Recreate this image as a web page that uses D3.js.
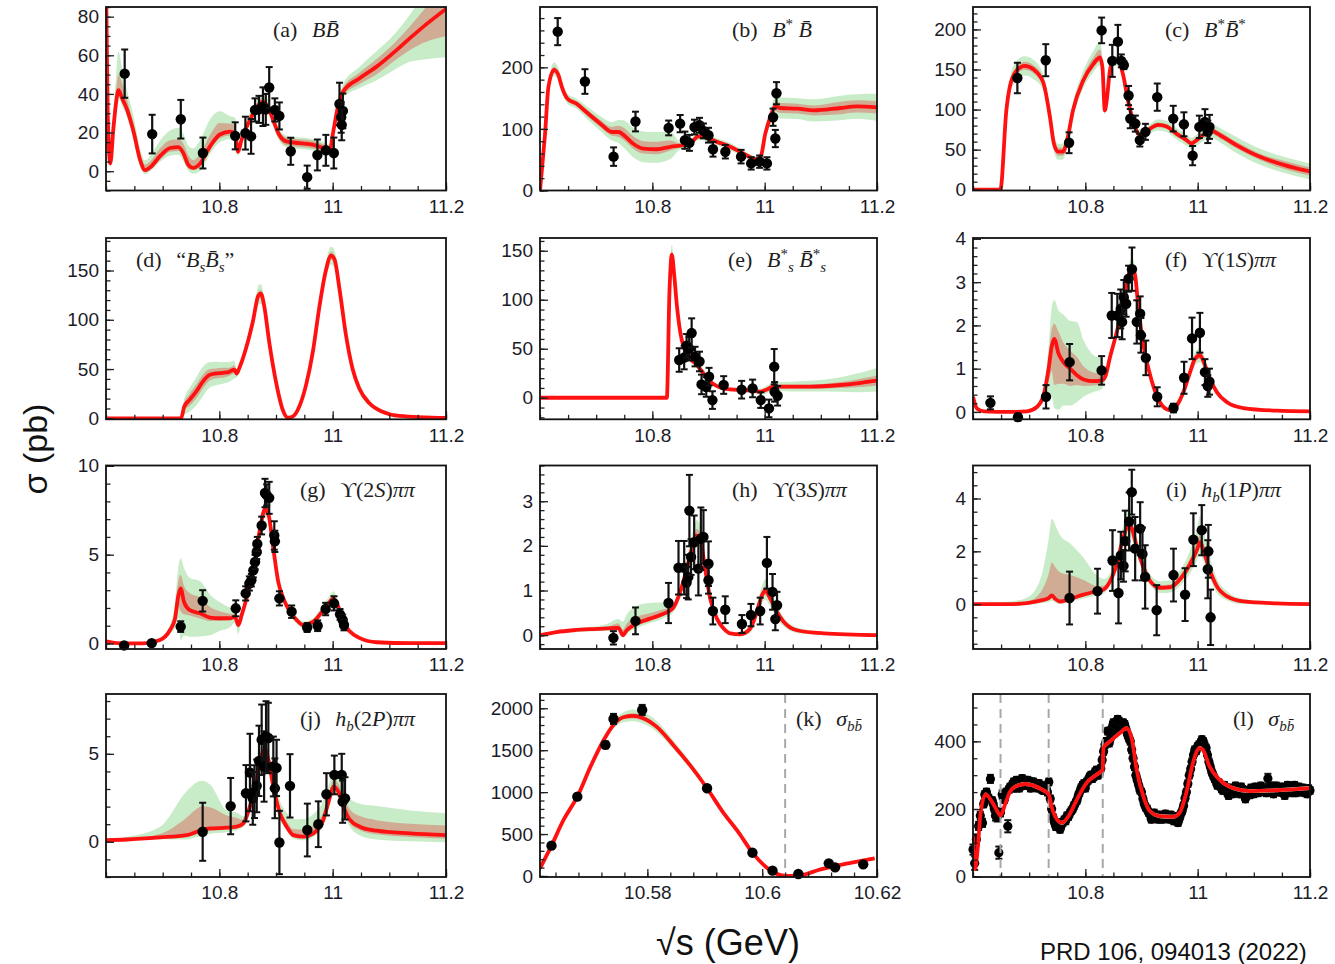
<!DOCTYPE html>
<html>
<head>
<meta charset="utf-8">
<script src="https://cdn.jsdelivr.net/npm/d3@7"></script>
<style>
  body { margin: 0; background: #fff; }
  svg { display: block; }
</style>
</head>
<body>
<svg id="chart" width="1335" height="964"></svg>
<script>
// ---- data ----
// curve rows: [sqrt(s), sigma, innerDown, innerUp, outerDown, outerUp]  (or [x, y, inner, outer] when symmetric)
// point rows: [sqrt(s), sigma, error]

const curveA = [
  [10.600, 100, 0, 0, 0, 0], [10.603, 30, 0, 0, 0, 0], [10.6076, 4, 1, 1, 2, 2], [10.613, 22, 2, 3, 3, 8],
  [10.618, 36, 2, 6, 4, 14], [10.622, 42, 2, 8, 4, 20], [10.628, 38, 2, 8, 4, 16], [10.637, 32, 2, 5, 4, 10],
  [10.649, 20, 2, 4, 4, 8], [10.660, 6, 2, 3, 3, 6], [10.669, 0.5, 1, 3, 2, 5], [10.678, 2, 1, 3, 2, 6],
  [10.696, 8, 2, 4, 3, 8], [10.713, 12, 2, 4, 4, 9], [10.728, 12.5, 2, 4, 4, 10], [10.737, 9, 2, 5, 4, 10],
  [10.745, 3.4, 2, 5, 3, 10], [10.754, 1.7, 1, 4, 3, 10], [10.766, 4, 2, 5, 4, 12], [10.784, 13, 2, 6, 4, 14],
  [10.801, 19, 2, 6, 4, 12], [10.819, 20.5, 2, 4, 4, 8], [10.828, 19.7, 2, 4, 4, 8], [10.833, 10, 1, 2, 2, 4],
  [10.839, 16, 1, 2, 2, 3], [10.854, 26.5, 1, 2, 2, 4], [10.866, 33, 1, 2, 3, 4], [10.877, 36, 2, 2, 3, 4],
  [10.886, 33, 2, 2, 3, 4], [10.895, 26.5, 2, 2, 3, 3], [10.904, 19.7, 2, 2, 3, 3], [10.918, 15.4, 2, 2, 3, 3],
  [10.942, 14.5, 2, 2, 3, 3], [10.965, 13.7, 2, 2, 3, 3], [10.983, 12, 2, 2, 3, 3], [10.995, 11, 2, 2, 3, 3],
  [11.0006, 19.7, 2, 2, 3, 3], [11.009, 33, 2, 2, 3, 3], [11.018, 41, 2, 2, 3, 4], [11.047, 48, 3, 3, 5, 6],
  [11.077, 54, 4, 4, 7, 8], [11.106, 61, 4.5, 4.5, 9, 9], [11.135, 68.5, 6, 6, 12, 12], [11.165, 76, 9, 9, 18, 18],
  [11.2, 84, 14, 14, 25, 25]
];
const pointsA = [
  [10.633, 50.5, 12.5], [10.6815, 19.2, 10], [10.732, 26.9, 10], [10.771, 9.4, 8], [10.828, 18.3, 7],
  [10.846, 19.7, 8.5], [10.856, 18, 9], [10.863, 31.7, 6], [10.870, 32, 7], [10.877, 33.4, 10],
  [10.882, 32, 8], [10.888, 43.3, 10.6], [10.898, 31.7, 6], [10.906, 28.6, 7], [10.926, 10.3, 7],
  [10.955, -3.1, 6], [10.973, 8.4, 8], [10.988, 10.8, 8], [11.002, 9.4, 8], [11.012, 34.8, 11],
  [11.015, 27.9, 8], [11.018, 31.2, 9], [11.016, 24, 8]
];

const curveB = [
  [10.600, 0, 0, 0, 0, 0], [10.604, 40, 2, 2, 4, 4], [10.609, 92, 3, 3, 6, 6], [10.615, 168, 4, 4, 8, 8],
  [10.625, 196, 5, 5, 10, 12], [10.633, 187, 5, 5, 10, 12], [10.639, 168, 5, 5, 8, 10], [10.649, 149, 4, 4, 8, 8],
  [10.665, 141, 4, 4, 8, 8], [10.683, 127, 5, 5, 10, 10], [10.707, 109, 6, 6, 12, 12], [10.728, 95, 6, 8, 14, 16],
  [10.740, 95, 8, 10, 18, 20], [10.749, 90, 8, 12, 20, 24], [10.766, 76, 8, 12, 22, 26], [10.784, 68, 8, 12, 22, 28],
  [10.808, 67, 8, 12, 22, 28], [10.832, 71, 6, 10, 20, 24], [10.850, 73, 3, 3, 6, 6], [10.867, 76, 3, 3, 6, 6],
  [10.882, 88, 3, 3, 6, 6], [10.891, 87, 3, 3, 6, 6], [10.915, 79, 3, 3, 6, 6], [10.939, 71, 3, 3, 6, 6],
  [10.962, 60, 3, 3, 5, 5], [10.986, 50.5, 3, 3, 5, 5], [10.993, 55, 3, 3, 5, 5], [11.001, 92, 4, 4, 8, 8],
  [11.010, 119, 6, 6, 12, 12], [11.019, 136.6, 8, 8, 16, 16], [11.028, 134, 8, 8, 17, 17], [11.058, 133, 8, 8, 17, 17],
  [11.087, 130, 8, 8, 18, 18], [11.135, 134, 10, 10, 20, 20], [11.164, 136.5, 10, 10, 20, 20], [11.2, 135, 10, 10, 22, 22]
];
const pointsB = [
  [10.6315, 258, 22], [10.680, 177, 20], [10.731, 55, 15], [10.770, 112, 16], [10.829, 101.6, 12],
  [10.8495, 108.6, 14], [10.858, 81.7, 14], [10.866, 77.4, 13], [10.875, 103, 12], [10.884, 106, 12],
  [10.891, 96.8, 12], [10.900, 89.8, 12], [10.908, 67, 12], [10.930, 63, 11], [10.958, 55, 11],
  [10.976, 44, 10], [10.991, 46.8, 10], [11.004, 44, 10], [11.015, 119, 14], [11.019, 84.4, 14],
  [11.021, 158, 18]
];

const curveC = [
  [10.600, 0, 0, 0, 0, 0], [10.6487, 0, 0, 0, 0, 0], [10.6594, 99, 4, 4, 8, 8], [10.6654, 128, 5, 5, 10, 10],
  [10.677, 148, 5, 5, 12, 12], [10.692, 154.6, 5, 5, 12, 12], [10.707, 150.5, 5, 5, 12, 12], [10.725, 134, 5, 5, 10, 10],
  [10.737, 90.7, 5, 5, 10, 10], [10.744, 57.7, 5, 5, 10, 10], [10.7515, 47.4, 5, 5, 10, 10], [10.760, 47.4, 5, 5, 10, 10],
  [10.7676, 61.9, 5, 5, 10, 10], [10.778, 99, 5, 5, 10, 10], [10.796, 136, 5, 6, 10, 12], [10.814, 156.7, 5, 8, 10, 16],
  [10.826, 165, 5, 10, 10, 20], [10.8305, 152.6, 5, 6, 8, 10], [10.8347, 99, 3, 3, 5, 5], [10.838, 111, 3, 3, 5, 5],
  [10.8436, 148, 3, 3, 6, 6], [10.8496, 160.8, 3, 3, 6, 6], [10.858, 160.8, 3, 3, 6, 6], [10.867, 144, 3, 3, 6, 6],
  [10.876, 111, 3, 3, 6, 6], [10.885, 86.6, 3, 3, 6, 6], [10.894, 70, 3, 3, 6, 6], [10.903, 68, 3, 3, 6, 6],
  [10.915, 76, 3, 3, 6, 6], [10.930, 81, 3, 3, 7, 7], [10.9446, 79, 3, 3, 7, 7], [10.962, 70, 3, 3, 7, 7],
  [10.980, 61.9, 3, 3, 7, 7], [10.989, 57.7, 3, 3, 7, 7], [10.998, 61.9, 3, 3, 7, 7], [11.013, 70, 4, 4, 8, 8],
  [11.022, 74, 4, 4, 9, 9], [11.040, 68, 4, 4, 9, 9], [11.069, 55.7, 4, 4, 10, 10], [11.111, 41, 4, 4, 10, 10],
  [11.153, 31, 5, 5, 10, 10], [11.2, 22.7, 5, 5, 10, 10]
];
const pointsC = [
  [10.679, 139.4, 19], [10.7295, 161.6, 20], [10.771, 58.6, 13], [10.829, 198.8, 16], [10.848, 160.8, 20],
  [10.858, 184.7, 21], [10.864, 160.8, 8], [10.8686, 155.5, 5], [10.877, 117.5, 12], [10.880, 88.7, 12],
  [10.889, 82.5, 10], [10.897, 61.9, 8], [10.907, 72.2, 10], [10.928, 115.5, 17], [10.9565, 88.7, 16],
  [10.9755, 81.6, 15], [10.991, 42.5, 12], [11.003, 78.4, 14], [11.013, 84.5, 16], [11.018, 72.2, 14],
  [11.021, 78.4, 15]
];

const curveD = [
  [10.600, 0, 0, 0, 0, 0], [10.7324, 0, 0, 0, 0, 0], [10.738, 11.8, 4, 4, 8, 8], [10.747, 18.5, 6, 6, 12, 12],
  [10.759, 27, 7, 7, 14, 14], [10.7706, 37, 7, 7, 15, 15], [10.782, 43.8, 6, 6, 13, 13], [10.794, 45.5, 5, 5, 12, 12],
  [10.806, 46.2, 5, 5, 11, 11], [10.8176, 47.2, 4, 4, 10, 10], [10.8265, 49.5, 4, 4, 9, 9], [10.8306, 45.5, 2, 2, 4, 4],
  [10.835, 50.6, 2, 2, 3, 3], [10.847, 70.8, 2, 2, 4, 4], [10.859, 97.7, 3, 3, 6, 6], [10.869, 124.7, 4, 4, 10, 10],
  [10.8735, 126.4, 4, 4, 10, 10], [10.879, 114.6, 3, 3, 6, 6], [10.888, 77.5, 2, 2, 4, 4], [10.900, 37, 2, 2, 3, 3],
  [10.912, 8.4, 1, 1, 2, 2], [10.9206, 0.7, 1, 1, 2, 2], [10.929, 1.7, 1, 1, 2, 2], [10.941, 11.8, 1, 1, 3, 3],
  [10.953, 33.7, 2, 2, 4, 4], [10.965, 67.4, 2, 2, 5, 5], [10.976, 111, 3, 3, 6, 6], [10.988, 150, 4, 4, 8, 8],
  [10.997, 165, 4, 4, 9, 9], [11.003, 161.8, 4, 4, 9, 9], [11.012, 131.4, 3, 3, 7, 7], [11.0235, 84.3, 3, 3, 6, 6],
  [11.035, 50.6, 2, 2, 5, 5], [11.047, 30.3, 2, 2, 4, 4], [11.065, 15.2, 1, 1, 3, 3], [11.088, 6.7, 1, 1, 2, 2],
  [11.1176, 2.4, 0.5, 0.5, 1, 1], [11.2, 0.3, 0, 0, 0, 0]
];
const pointsD = [];

const curveE = [
  [10.600, 0, 0, 0, 0, 0], [10.8258, 0, 0, 0, 0, 0], [10.8305, 108, 4, 4, 8, 8], [10.8347, 146, 4, 4, 8, 10],
  [10.8389, 125.5, 4, 4, 6, 8], [10.8436, 94.8, 3, 3, 5, 6], [10.8496, 67.5, 3, 3, 5, 5], [10.8555, 52, 2, 2, 4, 4],
  [10.8674, 40, 2, 2, 3, 3], [10.8793, 33.4, 2, 2, 3, 3], [10.891, 24.9, 2, 2, 3, 3], [10.903, 16.4, 1, 1, 2, 2],
  [10.915, 11.9, 1, 1, 2, 2], [10.9387, 8.5, 1, 1, 2, 2], [10.9624, 7.8, 1, 1, 2, 2], [10.980, 7.2, 1, 1, 2, 2],
  [10.992, 6.1, 1, 1, 3, 3], [11.004, 8.5, 2, 2, 4, 4], [11.016, 11.3, 2, 2, 4, 4], [11.0456, 11.3, 2, 2, 5, 5],
  [11.0813, 11.3, 2, 2, 5, 6], [11.1348, 13, 3, 3, 7, 8], [11.1645, 14.7, 4, 4, 9, 10], [11.2, 17.4, 5, 5, 11, 13]
];
const pointsE = [
  [10.8478, 38.5, 12], [10.8567, 41, 12], [10.861, 53, 12], [10.8656, 50, 12], [10.870, 66, 15],
  [10.876, 42, 10], [10.884, 37, 10], [10.8876, 13.6, 10], [10.896, 11, 10], [10.901, 21.5, 9],
  [10.907, -2.4, 9], [10.927, 13, 9], [10.959, 8.2, 9], [10.9785, 9.5, 9], [10.993, -2.4, 8],
  [11.0076, -10.9, 9], [11.017, 31.7, 18], [11.0177, 6, 10], [11.023, 2, 10]
];

const curveF = [
  [10.600, 0.35, 0.03, 0.03, 0.05, 0.05], [10.607, 0.08, 0.02, 0.02, 0.04, 0.04], [10.619, 0.015, 0.01, 0.01, 0.02, 0.02],
  [10.6664, 0, 0.01, 0.01, 0.02, 0.02], [10.696, 0.015, 0.01, 0.01, 0.03, 0.03], [10.7138, 0.115, 0.03, 0.03, 0.06, 0.08],
  [10.7257, 0.385, 0.08, 0.08, 0.15, 0.2], [10.7346, 1.0, 0.3, 0.2, 0.6, 0.5], [10.7405, 1.54, 0.6, 0.4, 1.2, 0.9],
  [10.7446, 1.69, 1.07, 0.35, 1.6, 0.9], [10.7523, 1.35, 0.7, 0.5, 1.3, 1.0], [10.761, 1.15, 0.5, 0.45, 1.0, 1.1],
  [10.773, 1.0, 0.4, 0.42, 0.85, 1.1], [10.785, 0.85, 0.23, 0.42, 0.62, 1.23], [10.797, 0.75, 0.15, 0.3, 0.4, 0.9],
  [10.8146, 0.71, 0.1, 0.2, 0.25, 0.6], [10.8294, 0.73, 0.08, 0.15, 0.2, 0.5], [10.8353, 0.81, 0.05, 0.05, 0.1, 0.1],
  [10.844, 1.27, 0.05, 0.05, 0.1, 0.1], [10.856, 1.85, 0.06, 0.06, 0.12, 0.12], [10.868, 2.54, 0.08, 0.08, 0.15, 0.15],
  [10.8768, 3.15, 0.1, 0.1, 0.2, 0.2], [10.8827, 3.35, 0.1, 0.1, 0.2, 0.2], [10.8887, 3.15, 0.1, 0.1, 0.2, 0.2],
  [10.8946, 2.38, 0.08, 0.08, 0.15, 0.15], [10.9035, 1.54, 0.06, 0.06, 0.12, 0.12], [10.9154, 0.85, 0.05, 0.05, 0.1, 0.1],
  [10.927, 0.385, 0.03, 0.03, 0.06, 0.06], [10.939, 0.115, 0.02, 0.02, 0.04, 0.04], [10.951, 0.04, 0.02, 0.02, 0.04, 0.04],
  [10.963, 0.15, 0.03, 0.03, 0.06, 0.06], [10.9746, 0.46, 0.05, 0.05, 0.1, 0.1], [10.9865, 0.92, 0.06, 0.06, 0.12, 0.12],
  [10.9954, 1.23, 0.07, 0.07, 0.15, 0.15], [11.0043, 1.31, 0.08, 0.08, 0.16, 0.16], [11.013, 1.08, 0.07, 0.07, 0.15, 0.15],
  [11.022, 0.77, 0.05, 0.05, 0.1, 0.1], [11.034, 0.46, 0.04, 0.04, 0.08, 0.08], [11.0517, 0.23, 0.02, 0.02, 0.05, 0.05],
  [11.0813, 0.09, 0.01, 0.01, 0.03, 0.03], [11.1406, 0.03, 0.01, 0.01, 0.02, 0.02], [11.2, 0.015, 0.01, 0.01, 0.02, 0.02]
];
const pointsF = [
  [10.631, 0.21, 0.15], [10.680, -0.12, 0.08], [10.730, 0.35, 0.27], [10.772, 1.15, 0.42], [10.829, 0.96, 0.33],
  [10.847, 2.23, 0.52], [10.857, 2.23, 0.5], [10.863, 2.38, 0.45], [10.8655, 2.08, 0.4], [10.8685, 2.65, 0.4],
  [10.8727, 2.5, 0.3], [10.877, 3.08, 0.3], [10.883, 3.3, 0.5], [10.8916, 2.08, 0.5], [10.8976, 2.27, 0.4],
  [10.899, 1.77, 0.4], [10.9077, 1.25, 0.4], [10.928, 0.35, 0.22], [10.957, 0.09, 0.1], [10.9758, 0.79, 0.37],
  [10.99, 1.7, 0.48], [11.004, 1.83, 0.46], [11.013, 0.92, 0.3], [11.018, 0.6, 0.25], [11.021, 0.7, 0.3]
];

const curveG = [
  [10.600, 0.12, 0.02, 0.02, 0.05, 0.05], [10.6247, 0.01, 0.01, 0.01, 0.03, 0.03], [10.666, 0.01, 0.01, 0.01, 0.03, 0.03],
  [10.6953, 0.2, 0.03, 0.03, 0.06, 0.06], [10.713, 0.76, 0.1, 0.1, 0.2, 0.3], [10.7218, 1.4, 0.3, 0.4, 0.5, 0.9],
  [10.7276, 2.7, 0.6, 0.8, 1.3, 1.6], [10.7318, 3.1, 1.3, 0.75, 2.9, 1.7], [10.7376, 2.35, 0.7, 0.9, 1.9, 1.9],
  [10.748, 1.88, 0.3, 0.95, 1.5, 1.8], [10.766, 1.7, 0.3, 0.9, 1.3, 1.8], [10.7835, 1.46, 0.2, 0.6, 1.0, 1.3],
  [10.801, 1.42, 0.15, 0.4, 0.7, 0.9], [10.819, 1.42, 0.1, 0.25, 0.5, 0.6], [10.8276, 1.5, 0.08, 0.15, 0.3, 0.4],
  [10.8335, 1.04, 0.1, 0.1, 0.5, 0.3], [10.8394, 1.6, 0.1, 0.1, 0.2, 0.2], [10.848, 2.54, 0.1, 0.1, 0.2, 0.2],
  [10.86, 4.2, 0.1, 0.1, 0.2, 0.2], [10.8718, 6.45, 0.15, 0.15, 0.3, 0.3], [10.8806, 7.57, 0.2, 0.2, 0.4, 0.4],
  [10.8865, 7.3, 0.2, 0.2, 0.4, 0.4], [10.8953, 5.34, 0.15, 0.15, 0.3, 0.3], [10.904, 3.47, 0.1, 0.1, 0.2, 0.2],
  [10.913, 2.54, 0.1, 0.1, 0.2, 0.2], [10.9247, 1.79, 0.1, 0.1, 0.2, 0.2], [10.9365, 1.32, 0.1, 0.1, 0.2, 0.2],
  [10.948, 1.04, 0.1, 0.1, 0.2, 0.2], [10.966, 1.23, 0.1, 0.1, 0.2, 0.2], [10.9835, 1.88, 0.12, 0.12, 0.25, 0.3],
  [10.995, 2.35, 0.15, 0.15, 0.3, 0.35], [11.0012, 2.54, 0.15, 0.15, 0.3, 0.4], [11.01, 2.07, 0.15, 0.15, 0.3, 0.3],
  [11.0188, 1.23, 0.1, 0.1, 0.2, 0.2], [11.0306, 0.67, 0.06, 0.06, 0.12, 0.12], [11.048, 0.3, 0.04, 0.04, 0.08, 0.08],
  [11.0776, 0.07, 0.02, 0.02, 0.04, 0.04], [11.1365, 0.02, 0.01, 0.01, 0.02, 0.02], [11.2, 0.02, 0.01, 0.01, 0.02, 0.02]
];
const pointsG = [
  [10.632, -0.11, 0.08], [10.6806, 0.02, 0.1], [10.7318, 0.95, 0.3], [10.7706, 2.4, 0.6], [10.829, 1.98, 0.45],
  [10.8465, 2.82, 0.4], [10.853, 3.38, 0.4], [10.8565, 3.56, 0.35], [10.86, 4.12, 0.4], [10.863, 4.59, 0.4],
  [10.866, 5.15, 0.4], [10.867, 5.6, 0.4], [10.8747, 6.64, 0.5], [10.8806, 8.47, 0.8], [10.8835, 8.36, 0.6],
  [10.888, 8.2, 0.9], [10.897, 6.08, 0.8], [10.898, 5.75, 0.6], [10.906, 2.54, 0.4], [10.9276, 1.79, 0.35],
  [10.955, 0.9, 0.25], [10.9735, 1.0, 0.3], [10.9876, 1.94, 0.35], [11.0024, 2.26, 0.4], [11.013, 1.64, 0.3],
  [11.0176, 1.32, 0.3], [11.02, 1.04, 0.3]
];

const curveH = [
  [10.600, 0, 0.01, 0.01, 0.03, 0.03], [10.6297, 0.07, 0.01, 0.01, 0.03, 0.03], [10.6594, 0.11, 0.02, 0.02, 0.04, 0.04],
  [10.6891, 0.134, 0.02, 0.02, 0.05, 0.05], [10.7188, 0.15, 0.02, 0.03, 0.05, 0.1], [10.7396, 0.164, 0.03, 0.1, 0.06, 0.2],
  [10.7474, 0.0, 0.03, 0.12, 0.06, 0.3], [10.7545, 0.11, 0.03, 0.15, 0.08, 0.35], [10.7723, 0.26, 0.05, 0.15, 0.1, 0.4],
  [10.796, 0.37, 0.05, 0.12, 0.1, 0.35], [10.8198, 0.48, 0.05, 0.1, 0.1, 0.25], [10.8365, 0.6, 0.05, 0.05, 0.1, 0.1],
  [10.8496, 0.97, 0.06, 0.06, 0.12, 0.12], [10.8614, 1.49, 0.08, 0.08, 0.15, 0.2], [10.8704, 1.94, 0.1, 0.12, 0.2, 0.3],
  [10.8793, 2.23, 0.12, 0.15, 0.25, 0.35], [10.885, 2.16, 0.1, 0.12, 0.22, 0.3], [10.894, 1.49, 0.08, 0.08, 0.15, 0.15],
  [10.903, 0.82, 0.05, 0.05, 0.1, 0.1], [10.915, 0.37, 0.04, 0.04, 0.08, 0.08], [10.927, 0.15, 0.03, 0.03, 0.06, 0.06],
  [10.9387, 0.04, 0.02, 0.02, 0.04, 0.04], [10.9565, 0.02, 0.02, 0.02, 0.04, 0.04], [10.9743, 0.15, 0.05, 0.05, 0.1, 0.1],
  [10.986, 0.52, 0.07, 0.07, 0.15, 0.15], [10.995, 0.89, 0.08, 0.08, 0.18, 0.2], [11.001, 1.0, 0.1, 0.1, 0.2, 0.25],
  [11.010, 0.82, 0.08, 0.08, 0.18, 0.2], [11.0219, 0.52, 0.06, 0.06, 0.15, 0.15], [11.0337, 0.3, 0.05, 0.05, 0.1, 0.1],
  [11.0575, 0.11, 0.03, 0.03, 0.06, 0.06], [11.105, 0.04, 0.02, 0.02, 0.03, 0.03], [11.2, 0.0, 0.01, 0.01, 0.02, 0.02]
];
const pointsH = [
  [10.7307, -0.06, 0.15], [10.77, 0.32, 0.3], [10.8288, 0.72, 0.45], [10.8466, 1.51, 0.6], [10.8567, 1.51, 0.6],
  [10.861, 1.18, 0.35], [10.864, 1.3, 0.5], [10.866, 2.79, 0.8], [10.869, 1.75, 0.4], [10.8745, 2.08, 0.6],
  [10.882, 1.49, 0.6], [10.8864, 2.16, 0.7], [10.891, 2.2, 0.6], [10.900, 1.6, 0.5], [10.9, 1.23, 0.3],
  [10.9078, 0.54, 0.3], [10.9298, 0.57, 0.3], [10.9595, 0.25, 0.2], [10.9755, 0.45, 0.25], [10.992, 0.54, 0.3],
  [11.004, 1.62, 0.58], [11.014, 0.97, 0.4], [11.019, 0.36, 0.25], [11.022, 0.67, 0.3]
];

const curveI = [
  [10.600, 0, 0.01, 0.01, 0.05, 0.05], [10.6664, 0, 0.01, 0.02, 0.05, 0.1], [10.696, 0.04, 0.02, 0.05, 0.06, 0.2],
  [10.7197, 0.13, 0.03, 0.3, 0.1, 0.8], [10.7346, 0.23, 0.05, 0.9, 0.15, 2.2], [10.7405, 0.33, 0.05, 1.25, 0.2, 2.9],
  [10.7464, 0.2, 0.05, 1.2, 0.15, 2.8], [10.7553, 0.1, 0.03, 1.1, 0.1, 2.5], [10.773, 0.2, 0.05, 0.9, 0.1, 2.1],
  [10.7968, 0.36, 0.05, 0.55, 0.15, 1.4], [10.8205, 0.49, 0.05, 0.2, 0.15, 0.6], [10.8324, 0.55, 0.05, 0.15, 0.15, 0.4],
  [10.8442, 0.87, 0.05, 0.1, 0.15, 0.3], [10.856, 1.52, 0.1, 0.15, 0.2, 0.35], [10.868, 2.55, 0.15, 0.2, 0.3, 0.5],
  [10.8768, 3.0, 0.2, 0.3, 0.4, 0.7], [10.8827, 2.87, 0.2, 0.3, 0.4, 0.6], [10.8916, 2.16, 0.15, 0.2, 0.3, 0.4],
  [10.9035, 1.39, 0.1, 0.15, 0.2, 0.3], [10.9154, 0.87, 0.08, 0.1, 0.15, 0.25], [10.933, 0.62, 0.08, 0.1, 0.2, 0.25],
  [10.951, 0.64, 0.1, 0.1, 0.2, 0.25], [10.9687, 0.94, 0.1, 0.15, 0.25, 0.35], [10.9865, 1.52, 0.15, 0.2, 0.35, 0.5],
  [10.9983, 2.03, 0.2, 0.3, 0.4, 0.8], [11.0043, 2.35, 0.2, 0.3, 0.45, 1.0], [11.0102, 2.03, 0.2, 0.3, 0.4, 0.8],
  [11.022, 1.26, 0.15, 0.2, 0.3, 0.5], [11.034, 0.68, 0.1, 0.12, 0.25, 0.3], [11.0517, 0.3, 0.05, 0.08, 0.15, 0.2],
  [11.0813, 0.1, 0.03, 0.04, 0.1, 0.1], [11.1406, 0.03, 0.02, 0.02, 0.05, 0.05], [11.2, 0, 0.01, 0.01, 0.04, 0.04]
];
const pointsI = [
  [10.7719, 0.23, 1.0], [10.8217, 0.49, 0.85], [10.8484, 1.65, 1.15], [10.859, 0.42, 1.15], [10.8632, 1.84, 0.9],
  [10.868, 1.45, 0.6], [10.871, 2.39, 1.15], [10.878, 3.13, 1.1], [10.8827, 4.24, 0.85], [10.8887, 2.1, 1.2],
  [10.8976, 2.86, 1.0], [10.9017, 1.9, 1.0], [10.9065, 1.03, 1.2], [10.927, -0.23, 0.95], [10.957, 1.1, 1.0],
  [10.9776, 0.36, 1.0], [10.9924, 2.44, 1.0], [11.0073, 2.8, 0.95], [11.018, 1.32, 1.1], [11.019, 2.0, 1.0],
  [11.023, -0.5, 1.05]
];

const curveJ = [
  [10.600, 0.1, 0.02, 0.03, 0.05, 0.08], [10.6365, 0.13, 0.03, 0.05, 0.06, 0.15], [10.6953, 0.25, 0.05, 0.2, 0.1, 0.6],
  [10.7424, 0.38, 0.1, 1.0, 0.25, 2.5], [10.76, 0.57, 0.15, 1.3, 0.3, 2.8], [10.7688, 0.67, 0.15, 1.35, 0.35, 2.8],
  [10.7835, 0.76, 0.15, 1.2, 0.3, 2.5], [10.813, 0.8, 0.1, 0.7, 0.25, 1.0], [10.8306, 0.86, 0.1, 0.5, 0.2, 0.8],
  [10.8424, 1.05, 0.1, 0.2, 0.2, 0.4], [10.854, 2.0, 0.15, 0.2, 0.3, 0.4], [10.8659, 3.5, 0.2, 0.25, 0.4, 0.5],
  [10.8747, 4.94, 0.25, 0.3, 0.5, 0.6], [10.8806, 5.23, 0.25, 0.3, 0.5, 0.6], [10.8865, 4.66, 0.25, 0.3, 0.5, 0.6],
  [10.8953, 3.14, 0.2, 0.3, 0.4, 0.6], [10.907, 1.62, 0.15, 0.3, 0.3, 0.7], [10.9188, 0.86, 0.1, 0.3, 0.2, 0.8],
  [10.9306, 0.38, 0.1, 0.35, 0.2, 0.9], [10.948, 0.29, 0.1, 0.4, 0.2, 1.0], [10.966, 0.48, 0.1, 0.45, 0.2, 1.1],
  [10.9835, 1.24, 0.15, 0.45, 0.3, 1.1], [10.9953, 2.57, 0.2, 0.4, 0.4, 0.9], [11.0012, 3.14, 0.2, 0.4, 0.4, 0.9],
  [11.01, 2.85, 0.2, 0.45, 0.4, 1.0], [11.0188, 2.0, 0.2, 0.5, 0.4, 1.1], [11.0306, 1.24, 0.2, 0.6, 0.4, 1.2],
  [11.048, 0.86, 0.2, 0.6, 0.5, 1.3], [11.0776, 0.63, 0.2, 0.6, 0.5, 1.4], [11.1365, 0.48, 0.2, 0.55, 0.45, 1.3],
  [11.2, 0.38, 0.2, 0.55, 0.4, 1.25]
];
const pointsJ = [
  [10.7706, 0.57, 1.65], [10.82, 2.03, 1.6], [10.847, 2.76, 1.6], [10.854, 3.94, 2.2], [10.859, 2.47, 1.5],
  [10.862, 2.85, 1.5], [10.866, 3.18, 1.5], [10.87, 4.6, 2], [10.8747, 5.8, 2], [10.879, 4.28, 2],
  [10.8824, 5.99, 2], [10.8865, 5.9, 2], [10.8953, 4.28, 1.7], [10.898, 3.04, 1.7], [10.901, 4.2, 1.6],
  [10.906, -0.04, 1.8], [10.9247, 3.18, 1.8], [10.9553, 0.67, 1.5], [10.9747, 1.0, 1.3], [10.989, 2.7, 1.2],
  [11.003, 3.8, 1.1], [11.016, 3.8, 1.2], [11.0176, 2.28, 1.2], [11.0218, 2.47, 1.2]
];

const curveK = [
  [10.5613, 91, 3, 3, 6, 6], [10.5633, 362, 5, 5, 10, 10], [10.5654, 668, 6, 6, 12, 12], [10.5678, 946, 8, 8, 16, 16],
  [10.5701, 1304, 10, 10, 22, 22], [10.5724, 1622, 14, 14, 32, 32], [10.5741, 1801, 20, 20, 45, 45],
  [10.5758, 1893, 25, 25, 60, 60], [10.5776, 1909, 30, 30, 65, 75], [10.5793, 1881, 30, 30, 65, 75],
  [10.5816, 1781, 28, 28, 60, 70], [10.5845, 1563, 25, 25, 50, 55], [10.5874, 1324, 20, 20, 40, 45],
  [10.5904, 1046, 15, 15, 30, 30], [10.5931, 767, 10, 10, 20, 20], [10.596, 509, 8, 8, 14, 14],
  [10.5983, 278, 6, 6, 10, 10], [10.6006, 111, 4, 4, 8, 8], [10.6023, 32, 3, 3, 5, 5], [10.6041, 2, 2, 2, 4, 4],
  [10.6058, 4, 2, 2, 4, 4], [10.6075, 20, 2, 2, 4, 4], [10.6098, 72, 3, 3, 6, 6], [10.6121, 111, 3, 3, 6, 6],
  [10.6156, 159, 4, 4, 8, 8], [10.6196, 211, 4, 4, 8, 8]
];
const pointsK = [
  [10.5633, 362, 20], [10.5678, 946, 30], [10.5727, 1563, 40], [10.5741, 1873, 60], [10.5791, 1980, 60],
  [10.5904, 1046, 25], [10.5983, 278, 20], [10.6018, 64, 15], [10.6063, 24, 10], [10.6116, 151, 15],
  [10.6127, 103, 15], [10.6176, 139, 15]
];

const curveL = [
  [10.600, 120, 3, 6], [10.6035, 22, 3, 6], [10.6077, 71, 3, 6], [10.6136, 189, 3, 6], [10.6224, 243, 3, 6],
  [10.6313, 228, 3, 6], [10.6402, 203, 3, 6], [10.649, 181, 3, 6], [10.6579, 218, 3, 6], [10.6667, 253, 3, 6],
  [10.6786, 269, 3, 6], [10.6933, 274, 3, 6], [10.7081, 269, 3, 6], [10.7229, 257.5, 3, 6], [10.7347, 243, 3, 6],
  [10.7406, 203, 3, 6], [10.7494, 169, 3, 6], [10.7583, 159, 3, 6], [10.7701, 179, 3, 6], [10.785, 228, 3, 6],
  [10.8026, 278, 3, 6], [10.8203, 302, 3, 6], [10.831, 316.5, 3, 6], [10.8321, 380, 3, 6], [10.844, 400, 3, 6],
  [10.8617, 425, 3, 6], [10.8735, 439, 3, 6], [10.8824, 410, 3, 6], [10.8913, 316.5, 3, 6], [10.9031, 238, 3, 6],
  [10.9149, 194, 3, 6], [10.9326, 179, 3, 6], [10.9562, 177, 3, 6], [10.968, 189, 3, 6], [10.9798, 248, 3, 6],
  [10.9916, 336, 3, 6], [11.0034, 380, 3, 6], [11.0093, 375, 3, 6], [11.0211, 326, 3, 6], [11.0389, 287, 3, 6],
  [11.0625, 262, 3, 6], [11.092, 253, 3, 6], [11.1393, 255.5, 3, 6], [11.2, 262, 3, 6]
];
const pointsL = [
  [10.600, 80, 15], [10.603, 40, 20], [10.606, 110, 15], [10.610, 150, 12], [10.613, 180, 12], [10.617, 159, 12],
  [10.619, 215, 10], [10.621, 243, 10], [10.624, 250, 10], [10.626, 235, 10], [10.628, 232, 10], [10.631, 289, 12],
  [10.634, 225, 10], [10.636, 215, 10], [10.638, 200, 10], [10.640, 180, 14], [10.643, 175, 12], [10.646, 71, 18],
  [10.649, 190, 12], [10.652, 243, 12], [10.654, 235, 10], [10.656, 228, 10], [10.659, 250, 10], [10.662, 149, 18],
  [10.664, 258, 10], [10.666, 265, 10], [10.668, 262, 10], [10.670, 272, 10], [10.6725, 280, 10], [10.675, 262, 10],
  [10.6775, 285, 10], [10.680, 278, 10], [10.6825, 262, 10], [10.685, 268, 10], [10.6875, 290, 10], [10.690, 285, 10],
  [10.6925, 270, 10], [10.695, 275, 10], [10.6975, 285, 10], [10.700, 282, 10], [10.7025, 262, 10], [10.705, 268, 10],
  [10.7075, 280, 10], [10.710, 276, 10], [10.7125, 265, 10], [10.715, 262, 10], [10.7175, 275, 10], [10.720, 270, 10],
  [10.7225, 258, 10], [10.725, 255, 10], [10.7275, 268, 10], [10.730, 262, 10], [10.7325, 250, 10], [10.735, 280, 10],
  [10.7375, 230, 10], [10.740, 200, 10], [10.7425, 175, 10], [10.745, 160, 10], [10.7475, 148, 10], [10.750, 150, 10],
  [10.7525, 160, 10], [10.755, 140, 10], [10.7575, 152, 10], [10.760, 160, 10], [10.7625, 168, 10], [10.765, 165, 10],
  [10.7675, 180, 10], [10.770, 178, 10], [10.7725, 188, 10], [10.775, 195, 10], [10.7775, 200, 10], [10.780, 210, 10],
  [10.7825, 218, 10], [10.785, 225, 10], [10.7875, 240, 10], [10.790, 250, 10], [10.7925, 262, 10], [10.795, 270, 10],
  [10.7975, 275, 10], [10.800, 262, 10], [10.8025, 280, 10], [10.805, 285, 10], [10.8075, 295, 10], [10.810, 300, 10],
  [10.8125, 290, 10], [10.815, 295, 10], [10.8175, 310, 10], [10.820, 315, 10], [10.8225, 300, 10], [10.825, 305, 10],
  [10.8275, 320, 10], [10.830, 345, 10], [10.8325, 370, 10], [10.835, 390, 10], [10.8375, 400, 10], [10.840, 430, 10],
  [10.8425, 395, 10], [10.845, 410, 10], [10.8475, 440, 10], [10.850, 455, 10], [10.8525, 430, 10], [10.855, 445, 10],
  [10.8575, 465, 10], [10.860, 460, 10], [10.8625, 438, 10], [10.865, 440, 10], [10.8675, 455, 10], [10.870, 450, 10],
  [10.8725, 435, 10], [10.875, 420, 10], [10.8775, 410, 10], [10.880, 400, 10], [10.8825, 375, 10], [10.885, 350, 10],
  [10.8875, 325, 10], [10.890, 300, 10], [10.8925, 285, 10], [10.895, 270, 10], [10.8975, 255, 10], [10.900, 250, 10],
  [10.9025, 230, 10], [10.905, 215, 10], [10.9075, 205, 10], [10.910, 200, 10], [10.9125, 190, 10], [10.915, 185, 10],
  [10.9175, 170, 10], [10.920, 175, 10], [10.9225, 188, 10], [10.925, 182, 10], [10.9275, 176, 10], [10.930, 170, 10],
  [10.9325, 182, 10], [10.935, 178, 10], [10.9375, 170, 10], [10.940, 172, 10], [10.9425, 185, 10], [10.945, 180, 10],
  [10.9475, 172, 10], [10.950, 170, 10], [10.9525, 182, 10], [10.955, 175, 10], [10.9575, 165, 10], [10.960, 168, 10],
  [10.9625, 178, 10], [10.965, 160, 10], [10.9675, 172, 10], [10.970, 185, 10], [10.9725, 195, 10], [10.975, 210, 10],
  [10.9775, 232, 10], [10.980, 250, 10], [10.9825, 275, 10], [10.985, 300, 10], [10.9875, 318, 10], [10.990, 340, 10],
  [10.9925, 360, 10], [10.995, 375, 10], [10.9975, 372, 10], [11.000, 385, 10], [11.0025, 390, 10], [11.005, 395, 10],
  [11.0075, 405, 10], [11.010, 400, 10], [11.0125, 388, 10], [11.015, 380, 10], [11.0175, 360, 10], [11.020, 340, 10],
  [11.0225, 325, 10], [11.025, 310, 10], [11.0275, 300, 10], [11.030, 290, 10], [11.0325, 282, 10], [11.035, 270, 10],
  [11.0375, 278, 10], [11.040, 268, 10], [11.0425, 260, 10], [11.045, 255, 10], [11.0475, 270, 10], [11.050, 262, 10],
  [11.0525, 250, 10], [11.055, 240, 10], [11.0575, 262, 10], [11.060, 258, 10], [11.0625, 245, 10], [11.065, 250, 10],
  [11.0675, 268, 10], [11.070, 262, 10], [11.0725, 255, 10], [11.075, 245, 10], [11.0775, 265, 10], [11.080, 258, 10],
  [11.0825, 248, 10], [11.085, 230, 10], [11.0875, 255, 10], [11.090, 250, 10], [11.0925, 242, 10], [11.095, 262, 10],
  [11.0975, 258, 10], [11.100, 245, 10], [11.1025, 265, 10], [11.105, 255, 10], [11.1075, 248, 10], [11.110, 250, 10],
  [11.1125, 268, 10], [11.115, 262, 10], [11.1175, 252, 10], [11.120, 255, 10], [11.1225, 248, 10], [11.125, 290, 14],
  [11.1275, 262, 10], [11.130, 255, 10], [11.1325, 268, 10], [11.135, 245, 10], [11.1375, 258, 10], [11.140, 268, 10],
  [11.1425, 255, 10], [11.145, 250, 10], [11.1475, 262, 10], [11.150, 265, 10], [11.1525, 248, 10], [11.155, 240, 10],
  [11.1575, 258, 10], [11.160, 270, 10], [11.1625, 262, 10], [11.165, 255, 10], [11.1675, 248, 10], [11.170, 262, 10],
  [11.1725, 270, 10], [11.175, 248, 10], [11.1775, 258, 10], [11.180, 265, 10], [11.1825, 252, 10], [11.185, 250, 10],
  [11.1875, 262, 10], [11.190, 258, 10], [11.1925, 248, 10], [11.195, 245, 10], [11.1975, 260, 10], [11.200, 255, 10]
];

// axis ranges and tick labels
const xDomainMain = [10.6, 11.2];
const xDomainK = [10.5613, 10.62];
const xTicksMain = [10.8, 11, 11.2];
const xTicksK = [10.58, 10.6, 10.62];
const yTicksA = [0, 20, 40, 60, 80];
const yTicksB = [0, 100, 200];
const yTicksC = [0, 50, 100, 150, 200];
const yTicksD = [0, 50, 100, 150];
const yTicksE = [0, 50, 100, 150];
const yTicksF = [0, 1, 2, 3, 4];
const yTicksG = [0, 5, 10];
const yTicksH = [0, 1, 2, 3];
const yTicksI = [0, 2, 4];
const yTicksJ = [0, 5];
const yTicksK = [0, 500, 1000, 1500, 2000];
const yTicksL = [0, 200, 400];
const thresholdsK = [10.604];
const thresholdsL = [10.649, 10.7347, 10.831];

// panel labels: [text, kind]
const labelA = [["(a)", "n"], [" ", "gap"], ["B", "i"], ["B\u0304", "i"]];
const labelB = [["(b)", "n"], [" ", "gap"], ["B", "i"], ["*", "sup"], [" ", "n"], ["B\u0304", "i"]];
const labelC = [["(c)", "n"], [" ", "gap"], ["B", "i"], ["*", "sup"], ["B\u0304", "i"], ["*", "sup"]];
const labelD = [["(d)", "n"], [" ", "gap"], ["\u201C", "n"], ["B", "i"], ["s", "sub"], ["B\u0304", "i"], ["s", "sub"], ["\u201D", "n"]];
const labelE = [["(e)", "n"], [" ", "gap"], ["B", "i"], ["*", "sup"], ["s", "sub"], [" ", "n"], ["B\u0304", "i"], ["*", "sup"], ["s", "sub"]];
const labelF = [["(f)", "n"], [" ", "gap"], ["\u03D2(1", "n"], ["S", "i"], [")", "n"], ["\u03C0\u03C0", "i"]];
const labelG = [["(g)", "n"], [" ", "gap"], ["\u03D2(2", "n"], ["S", "i"], [")", "n"], ["\u03C0\u03C0", "i"]];
const labelH = [["(h)", "n"], [" ", "gap"], ["\u03D2(3", "n"], ["S", "i"], [")", "n"], ["\u03C0\u03C0", "i"]];
const labelI = [["(i)", "n"], [" ", "gap"], ["h", "i"], ["b", "sub"], ["(1", "n"], ["P", "i"], [")", "n"], ["\u03C0\u03C0", "i"]];
const labelJ = [["(j)", "n"], [" ", "gap"], ["h", "i"], ["b", "sub"], ["(2", "n"], ["P", "i"], [")", "n"], ["\u03C0\u03C0", "i"]];
const labelK = [["(k)", "n"], [" ", "gap"], ["\u03C3", "i"], ["bb\u0304", "sub"]];
const labelL = [["(l)", "n"], [" ", "gap"], ["\u03C3", "i"], ["bb\u0304", "sub"]];

// ---- layout ----
const width = 1335, height = 964;
const frameCols = [[106, 446], [540, 877], [973, 1310]];
const frameRows = [[7, 190.5], [238, 419.3], [465.5, 649], [694, 877]];
const labelBase = [37, 267, 497, 726];

const panels = [
  { id: "a", row: 0, col: 0, curve: curveA, points: pointsA, yDomain: [-10, 85], yTicks: yTicksA, yMinor: 5, label: labelA, labelX: 273 },
  { id: "b", row: 0, col: 1, curve: curveB, points: pointsB, yDomain: [0, 298], yTicks: yTicksB, yMinor: 20, label: labelB, labelX: 732 },
  { id: "c", row: 0, col: 2, curve: curveC, points: pointsC, yDomain: [-1, 228], yTicks: yTicksC, yMinor: 10, label: labelC, labelX: 1165 },
  { id: "d", row: 1, col: 0, curve: curveD, points: pointsD, yDomain: [-1, 183], yTicks: yTicksD, yMinor: 10, label: labelD, labelX: 136 },
  { id: "e", row: 1, col: 1, curve: curveE, points: pointsE, yDomain: [-22, 163], yTicks: yTicksE, yMinor: 10, label: labelE, labelX: 728 },
  { id: "f", row: 1, col: 2, curve: curveF, points: pointsF, yDomain: [-0.17, 4.02], yTicks: yTicksF, yMinor: 0.2, label: labelF, labelX: 1165 },
  { id: "g", row: 2, col: 0, curve: curveG, points: pointsG, yDomain: [-0.31, 10.02], yTicks: yTicksG, yMinor: 1, label: labelG, labelX: 300 },
  { id: "h", row: 2, col: 1, curve: curveH, points: pointsH, yDomain: [-0.31, 3.8], yTicks: yTicksH, yMinor: 0.2, label: labelH, labelX: 732 },
  { id: "i", row: 2, col: 2, curve: curveI, points: pointsI, yDomain: [-1.7, 5.25], yTicks: yTicksI, yMinor: 0.5, label: labelI, labelX: 1166 },
  { id: "j", row: 3, col: 0, curve: curveJ, points: pointsJ, yDomain: [-2.0, 8.4], yTicks: yTicksJ, yMinor: 1, label: labelJ, labelX: 300 },
  { id: "k", row: 3, col: 1, curve: curveK, points: pointsK, yDomain: [-12, 2170], yTicks: yTicksK, yMinor: 100, label: labelK, labelX: 796,
    xDomain: xDomainK, xTicks: xTicksK, xMinor: 0.004, dashes: thresholdsK },
  { id: "l", row: 3, col: 2, curve: curveL, points: pointsL, yDomain: [-1, 540], yTicks: yTicksL, yMinor: 50, label: labelL, labelX: 1233,
    dashes: thresholdsL, pointR: 4.6, curveOnTop: true }
];

const svg = d3.select("#chart");
const defs = svg.append("defs");
const tickFont = "'Liberation Sans', Arial, sans-serif";
const serifFont = "'Liberation Serif', 'DejaVu Serif', serif";

function minorValues(domain, step) {
  let start = Math.ceil(domain[0] / step - 1e-9);
  let out = [];
  for (let k = start; k * step <= domain[1] + 1e-9; k++) out.push(+(k * step).toFixed(6));
  return out;
}

function band(row, which) {
  // returns [lo, hi] for inner or outer band
  if (row.length === 4) {
    let d = which === "inner" ? row[2] : row[3];
    return [row[1] - d, row[1] + d];
  }
  if (which === "inner") return [row[1] - row[2], row[1] + row[3]];
  return [row[1] - row[4], row[1] + row[5]];
}

function drawLabel(g, parts, x, y) {
  let t = g.append("text")
    .attr("x", x).attr("y", y)
    .attr("font-family", serifFont)
    .attr("font-size", 22)
    .attr("fill", "#1e1e1e");
  let shift = 0;
  parts.forEach(([s, kind]) => {
    let ts = t.append("tspan").text(s);
    let target = 0;
    if (kind === "i") ts.attr("font-style", "italic");
    if (kind === "gap") ts.attr("dx", 9);
    if (kind === "sup") { target = -8; ts.attr("font-size", 15); }
    if (kind === "sub") {
      target = 5;
      ts.attr("font-size", 15).attr("font-style", "italic");
    }
    if (target !== shift) ts.attr("dy", target - shift);
    shift = target;
  });
}

panels.forEach(p => {
  let [left, right] = frameCols[p.col];
  let [top, bottom] = frameRows[p.row];
  let xDomain = p.xDomain || xDomainMain;
  let x = d3.scaleLinear().domain(xDomain).range([left, right]);
  let y = d3.scaleLinear().domain(p.yDomain).range([bottom, top]);

  let g = svg.append("g").attr("class", "panel-" + p.id);

  defs.append("clipPath").attr("id", "clip-" + p.id)
    .append("rect")
    .attr("x", left).attr("y", top)
    .attr("width", right - left).attr("height", bottom - top);

  let plot = g.append("g").attr("clip-path", "url(#clip-" + p.id + ")");

  // outer (green) and inner (brown) bands
  let outer = d3.area()
    .x(d => x(d[0]))
    .y0(d => y(band(d, "outer")[0]))
    .y1(d => y(band(d, "outer")[1]))
    .curve(d3.curveMonotoneX);
  let inner = d3.area()
    .x(d => x(d[0]))
    .y0(d => y(band(d, "inner")[0]))
    .y1(d => y(band(d, "inner")[1]))
    .curve(d3.curveMonotoneX);

  plot.append("path").datum(p.curve).attr("d", outer).attr("fill", "#c8ebc8");
  plot.append("path").datum(p.curve).attr("d", inner).attr("fill", "#cfac93");

  // threshold markers
  if (p.dashes) {
    plot.selectAll("line.dash").data(p.dashes).enter().append("line")
      .attr("class", "dash")
      .attr("x1", d => x(d)).attr("x2", d => x(d))
      .attr("y1", top).attr("y2", bottom)
      .attr("stroke", "#a8a8a8")
      .attr("stroke-width", 2)
      .attr("stroke-dasharray", "9,6");
  }

  let line = d3.line().x(d => x(d[0])).y(d => y(d[1])).curve(d3.curveMonotoneX);
  function drawCurve() {
    plot.append("path").datum(p.curve).attr("d", line)
      .attr("fill", "none")
      .attr("stroke", "#ff1111")
      .attr("stroke-width", 3.8)
      .attr("stroke-linejoin", "round");
  }
  if (!p.curveOnTop) drawCurve();

  // data points with error bars
  let r = p.pointR || 5.2;
  let pts = g.append("g");
  let pg = pts.selectAll("g").data(p.points).enter().append("g");
  pg.append("line")
    .attr("x1", d => x(d[0])).attr("x2", d => x(d[0]))
    .attr("y1", d => y(d[1] - d[2])).attr("y2", d => y(d[1] + d[2]))
    .attr("stroke", "#111").attr("stroke-width", 2.2);
  pg.append("line")
    .attr("x1", d => x(d[0]) - 3.5).attr("x2", d => x(d[0]) + 3.5)
    .attr("y1", d => y(d[1] + d[2])).attr("y2", d => y(d[1] + d[2]))
    .attr("stroke", "#111").attr("stroke-width", 2);
  pg.append("line")
    .attr("x1", d => x(d[0]) - 3.5).attr("x2", d => x(d[0]) + 3.5)
    .attr("y1", d => y(d[1] - d[2])).attr("y2", d => y(d[1] - d[2]))
    .attr("stroke", "#111").attr("stroke-width", 2);
  pg.append("circle")
    .attr("cx", d => x(d[0])).attr("cy", d => y(d[1]))
    .attr("r", r).attr("fill", "#000");

  if (p.curveOnTop) {
    plot.raise();
    drawCurve();
  }

  // axes, ticks pointing inward
  let fmt = d => String(+d.toFixed(4));
  let yAxisMinor = d3.axisLeft(y).tickValues(minorValues(p.yDomain, p.yMinor)).tickSize(-4.5).tickFormat("");
  let yAxis = d3.axisLeft(y).tickValues(p.yTicks).tickSize(-8).tickPadding(7).tickFormat(fmt);
  let xMinorStep = p.xMinor || 0.05;
  let xAxisMinor = d3.axisBottom(x).tickValues(minorValues(xDomain, xMinorStep)).tickSize(-4.5).tickFormat("");
  let xAxis = d3.axisBottom(x).tickValues(p.xTicks || xTicksMain).tickSize(-8).tickPadding(9).tickFormat(fmt);

  [[yAxisMinor, left, 0], [yAxis, left, 0], [xAxisMinor, 0, bottom], [xAxis, 0, bottom]].forEach(([ax, tx, ty]) => {
    let a = g.append("g").attr("transform", `translate(${tx},${ty})`).call(ax);
    a.select(".domain").remove();
    a.selectAll("line").attr("stroke", "#222").attr("stroke-width", 1.3);
    a.selectAll("text")
      .attr("font-family", tickFont)
      .attr("font-size", 19)
      .attr("fill", "#1b1b28");
  });

  // frame
  g.append("rect")
    .attr("x", left).attr("y", top)
    .attr("width", right - left).attr("height", bottom - top)
    .attr("fill", "none")
    .attr("stroke", "#111")
    .attr("stroke-width", 1.8);

  drawLabel(g, p.label, p.labelX, labelBase[p.row]);
});

// axis titles
svg.append("text")
  .attr("transform", "translate(47,449) rotate(-90)")
  .attr("text-anchor", "middle")
  .attr("font-family", tickFont)
  .attr("font-size", 34)
  .attr("fill", "#111")
  .text("\u03C3 (pb)");

svg.append("text")
  .attr("x", 728).attr("y", 955)
  .attr("text-anchor", "middle")
  .attr("font-family", tickFont)
  .attr("font-size", 36)
  .attr("fill", "#111")
  .text("\u221As (GeV)");

svg.append("text")
  .attr("x", 1040).attr("y", 960)
  .attr("font-family", tickFont)
  .attr("font-size", 24)
  .attr("fill", "#111")
  .text("PRD 106, 094013 (2022)");
</script>
</body>
</html>
